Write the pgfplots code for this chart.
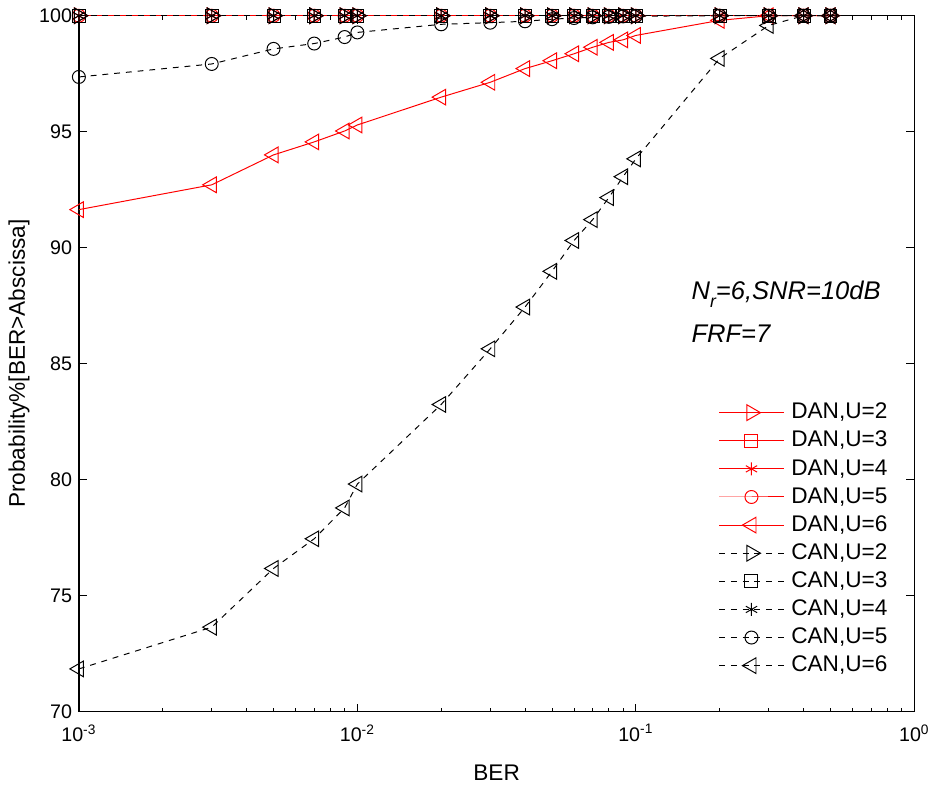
\documentclass[border=0pt]{standalone}
\usepackage{pgfplots}
\pgfplotsset{compat=1.18}
\usepackage{pgfplotstable}
\usepackage{fontspec}
\setmainfont{Liberation Sans}
\definecolor{myred}{RGB}{255,0,0}

\pgfplotstableread{
x      d2   d3   d4   d5   d6     c2   c3   c4   c5     c6
0.001  100  100  100  100  91.64  100  100  100  97.36  71.84
0.003  100  100  100  100  92.71  100  100  100  97.92  73.64
0.005  100  100  100  100  94.00  100  100  100  98.57  76.17
0.007  100  100  100  100  94.56  100  100  100  98.80  77.45
0.009  100  100  100  100  95.03  100  100  100  99.08  78.78
0.01   100  100  100  100  95.29  100  100  100  99.28  79.81
0.02   100  100  100  100  96.49  100  100  100  99.63  83.24
0.03   100  100  100  100  97.13  100  100  100  99.70  85.64
0.04   100  100  100  100  97.72  100  100  100  99.76  87.44
0.05   100  100  100  100  98.06  100  100  100  99.85  88.98
0.06   100  100  100  100  98.36  100  100  100  99.90  90.31
0.07   100  100  100  100  98.64  100  100  100  99.93  91.21
0.08   100  100  100  100  98.85  100  100  100  99.95  92.16
0.09   100  100  100  100  98.96  100  100  100  99.97  93.06
0.1    100  100  100  100  99.15  100  100  100  99.98  93.83
0.2    100  100  100  100  99.80  100  100  100  100    98.16
0.3    100  100  100  100  100    100  100  100  100    99.58
0.4    100  100  100  100  100    100  100  100  100    100
0.5    100  100  100  100  100    100  100  100  100    100
}\datatable

\begin{document}
\begin{tikzpicture}
\begin{axis}[
  scale only axis,
  width=425pt, height=354pt,
  xmode=log,
  xmin=1e-3, xmax=1, ymin=70, ymax=100,
  xtick={0.001,0.01,0.1,1},
  xticklabels={10\textsuperscript{-3},10\textsuperscript{-2},10\textsuperscript{-1},10\textsuperscript{0}},
  ytick={70,75,...,100},
  /pgf/number format/assume math mode=true,
  tick label style={font=\fontsize{10}{12}\selectfont},
  xticklabel style={yshift=-3pt},
  label style={font=\fontsize{11.5}{13}\selectfont},
  xlabel={BER},
  xlabel style={yshift=-5pt},
  ylabel={Probability\%[BER>Abscissa]},
  ylabel style={yshift=-2pt},
  axis line style={line width=0.7pt},
  major tick length=4pt, minor tick length=2pt,
  tick style={black, line width=0.5pt},
  clip=false,
  legend style={draw=none, fill=none, at={(rel axis cs:0.98,0.456)}, anchor=north east,
    font=\fontsize{11.5}{13}\selectfont,
    nodes={text height=8.3pt, text depth=2pt, inner sep=2pt},
    column sep=1.5pt},
  legend cell align=left,
  legend image code/.code={\draw[mark repeat=2,mark phase=2] plot coordinates {(0pt,0pt) (16.5pt,0pt) (33pt,0pt)};},
  every axis plot/.append style={line width=0.5pt},
  dan/.style={myred, solid, mark options={solid}},
  can/.style={black, dash pattern=on 3pt off 3pt, mark options={solid}},
]
\addplot[dan, mark=triangle, mark size=4.6pt, mark options={solid, rotate=-90}] table[x=x,y=d2] {\datatable};
\addlegendentry{DAN,U=2}
\addplot[dan, mark=square, mark size=3.3pt] table[x=x,y=d3] {\datatable};
\addlegendentry{DAN,U=3}
\addplot[dan, mark=asterisk, mark size=3.3pt] table[x=x,y=d4] {\datatable};
\addlegendentry{DAN,U=4}
\addplot[dan, mark=o, mark size=3.3pt] table[x=x,y=d5] {\datatable};
\addlegendentry{DAN,U=5}
\addplot[dan, mark=triangle, mark size=4.6pt, mark options={solid, rotate=90}] table[x=x,y=d6] {\datatable};
\addlegendentry{DAN,U=6}
\addplot[can, mark=triangle, mark size=4.6pt, mark options={solid, rotate=-90}] table[x=x,y=c2] {\datatable};
\addlegendentry{CAN,U=2}
\addplot[can, mark=square, mark size=3.3pt] table[x=x,y=c3] {\datatable};
\addlegendentry{CAN,U=3}
\addplot[can, mark=asterisk, mark size=3.3pt] table[x=x,y=c4] {\datatable};
\addlegendentry{CAN,U=4}
\addplot[can, mark=o, mark size=3.3pt] table[x=x,y=c5] {\datatable};
\addlegendentry{CAN,U=5}
\addplot[can, mark=triangle, mark size=4.6pt, mark options={solid, rotate=90}] table[x=x,y=c6] {\datatable};
\addlegendentry{CAN,U=6}

\node[anchor=west, font=\itshape\fontsize{13}{15}\selectfont, inner sep=0pt] at (axis cs:0.158,88.0) {N\raisebox{-4pt}{\fontsize{9}{10}\selectfont r}=6,SNR=10dB};
\node[anchor=west, font=\itshape\fontsize{13}{15}\selectfont, inner sep=0pt] at (axis cs:0.158,86.3) {FRF=7};
\end{axis}
\pgfresetboundingbox
\path[use as bounding box] ([xshift=-1pt]current axis.outer south west) rectangle ([xshift=9.5pt,yshift=8pt]current axis.north east);
\end{tikzpicture}
\end{document}
